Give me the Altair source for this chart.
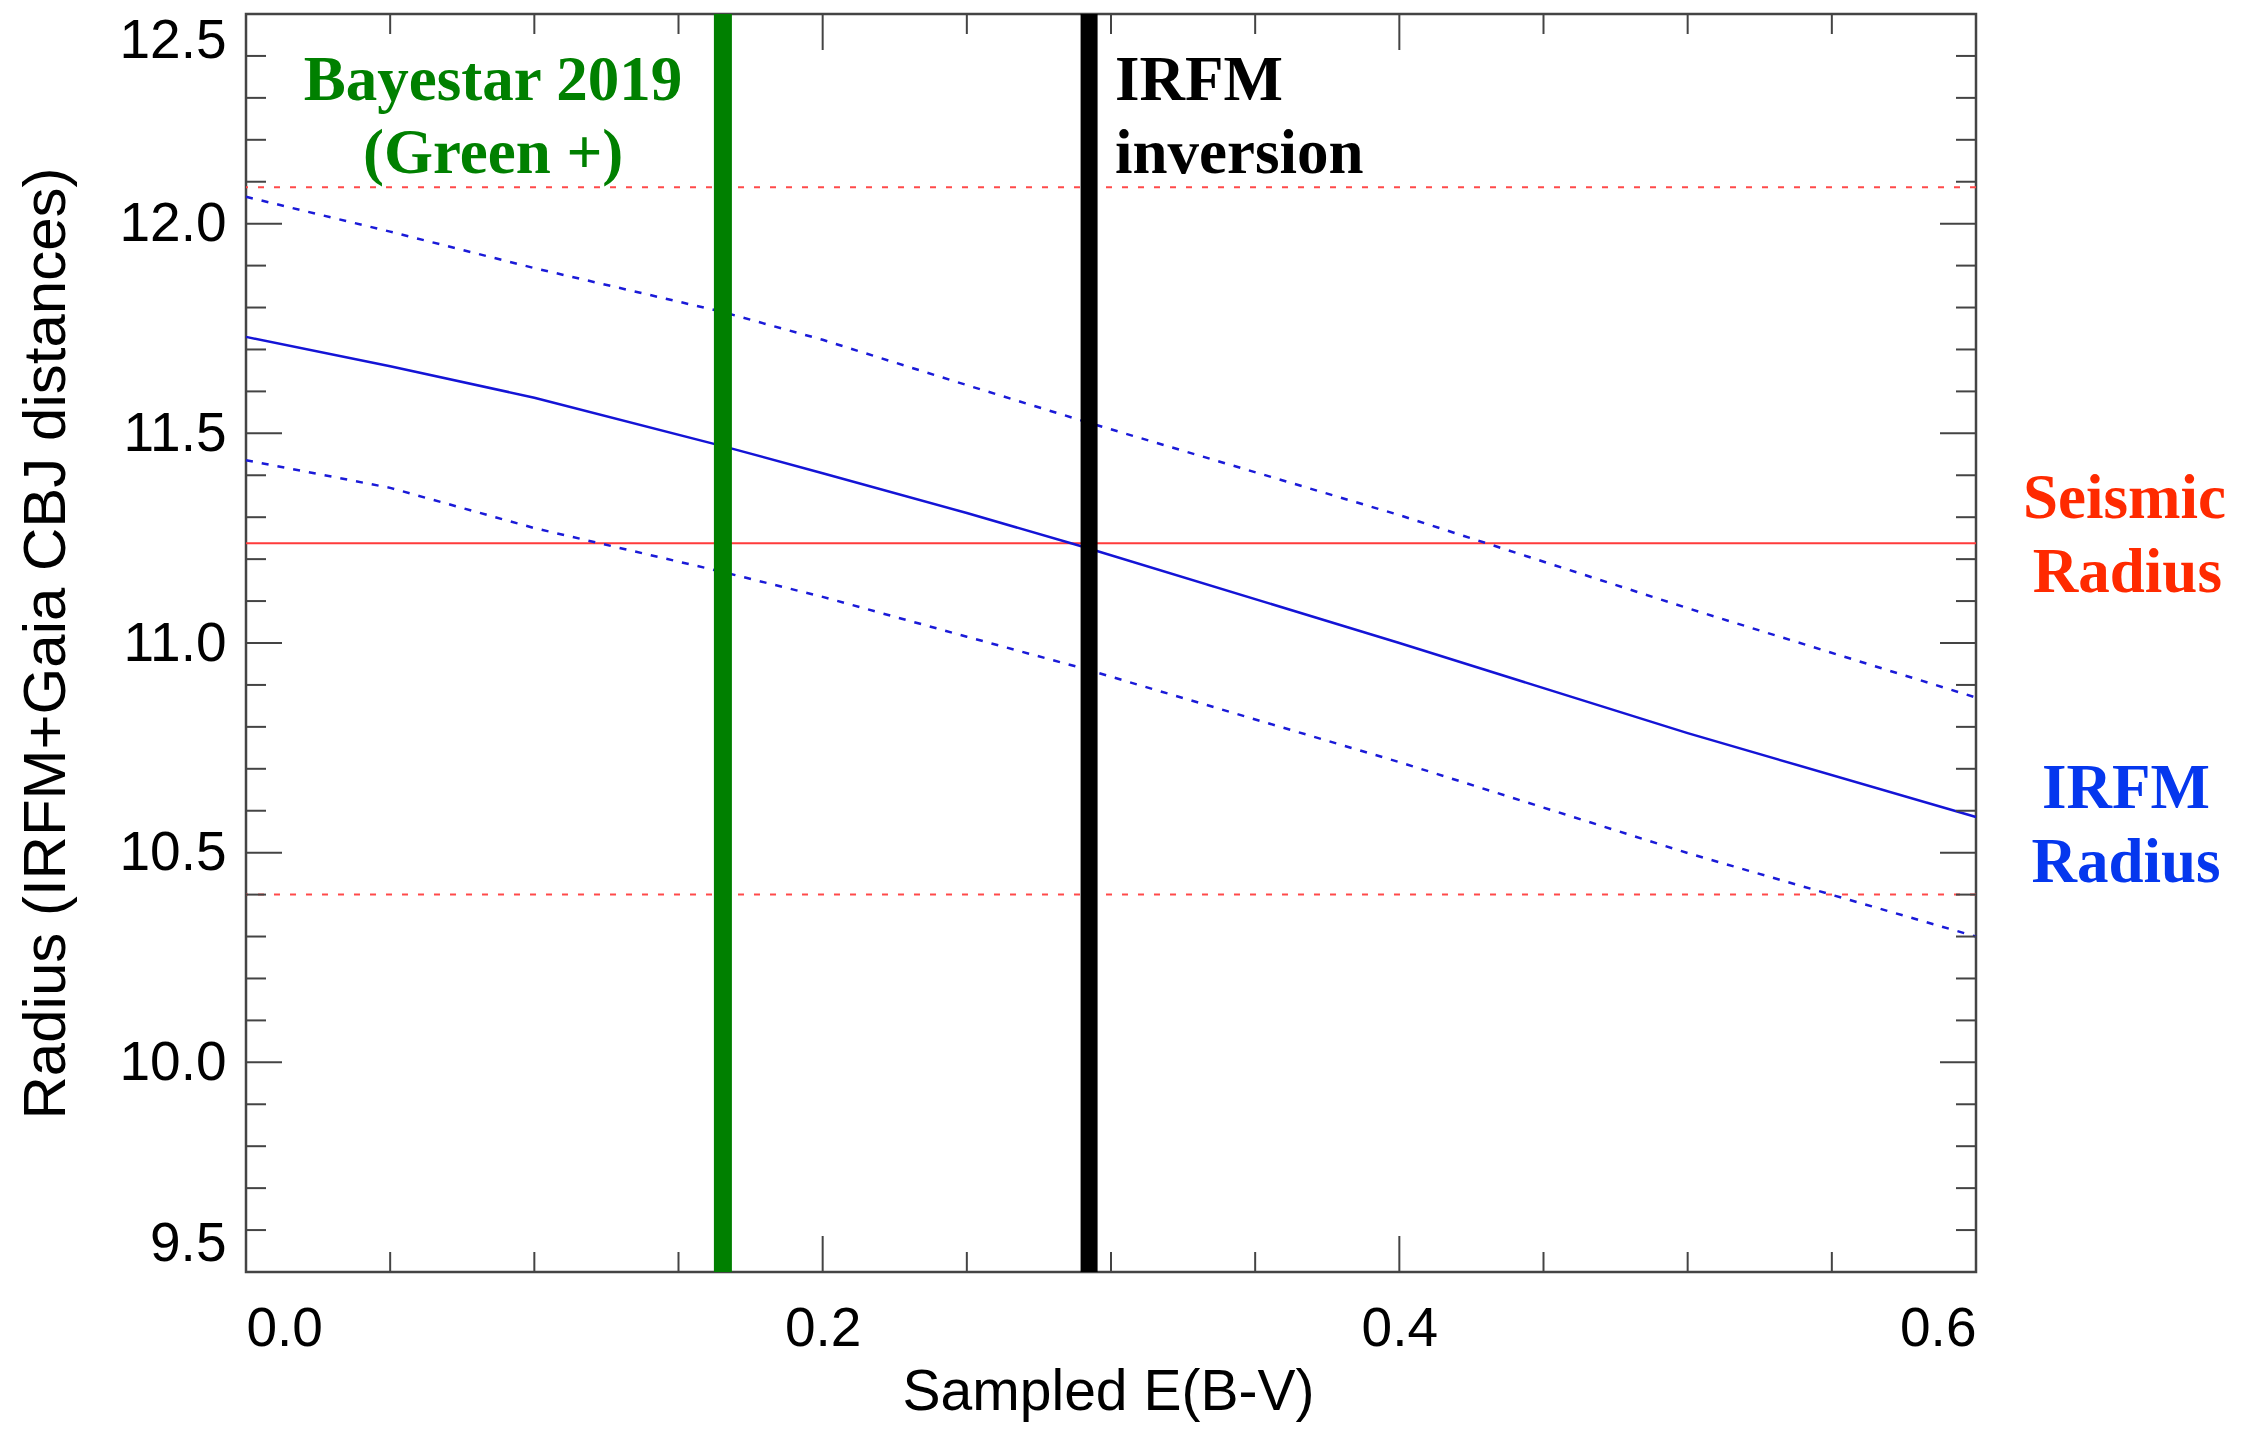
import altair as alt
import pandas as pd

# ---------------- data ----------------
ebv = [0.0, 0.05, 0.1, 0.165, 0.2, 0.25, 0.29, 0.4, 0.5, 0.6]
r_mid = [11.73, 11.66, 11.585, 11.47, 11.405, 11.31, 11.23, 11.0, 10.785, 10.585]
r_up = [12.064, 11.981, 11.894, 11.79, 11.723, 11.615, 11.53, 11.305, 11.083, 10.87]
r_lo = [11.436, 11.37, 11.274, 11.17, 11.11, 11.015, 10.94, 10.716, 10.499, 10.30]

seismic_r = [11.238]
seismic_band = [12.087, 10.40]

bayestar_ebv = [0.1654]
irfm_ebv = [0.2924]

x_major = [0.0, 0.2, 0.4, 0.6]
x_minor = [0.05, 0.1, 0.15, 0.25, 0.3, 0.35, 0.45, 0.5, 0.55]
y_major = [9.5, 10.0, 10.5, 11.0, 11.5, 12.0, 12.5]
y_minor = [9.6, 9.7, 9.8, 9.9, 10.1, 10.2, 10.3, 10.4, 10.6, 10.7, 10.8, 10.9,
           11.1, 11.2, 11.3, 11.4, 11.6, 11.7, 11.8, 11.9, 12.1, 12.2, 12.3, 12.4]

ann_text = ["Bayestar 2019", "(Green +)", "IRFM", "inversion",
            "Seismic", "Radius", "IRFM", "Radius"]
ann_x = [0.0857, 0.0857, 0.3014, 0.3014, 0.6515, 0.6525, 0.652, 0.652]
ann_y = [12.295, 12.121, 12.295, 12.121, 11.298, 11.122, 10.606, 10.430]
ann_color = ["#008000", "#008000", "#000000", "#000000",
             "#ff2a00", "#ff2a00", "#0537ee", "#0537ee"]
ann_align = ["center", "center", "left", "left",
             "center", "center", "center", "center"]

# ---------------- layout ----------------
W, H = 1730, 1258
FRAME = "#444444"

xs = alt.Scale(domain=[0, 0.6], nice=False, zero=False)
ys = alt.Scale(domain=[9.5, 12.5], nice=False, zero=False)

xaxis = alt.Axis(values=x_major, format=".1f", grid=False, domain=False, ticks=False,
                 labelFont="Liberation Sans", labelFontSize=55, labelColor="black",
                 labelPadding=30, title="Sampled E(B-V)", titleFont="Liberation Sans",
                 titleFontSize=57, titleFontWeight="normal", titleColor="black",
                 titleX=862, titleY=137, titleBaseline="alphabetic", titleAlign="center")
yaxis = alt.Axis(values=y_major, format=".1f", grid=False, domain=False, ticks=False,
                 labelFont="Liberation Sans", labelFontSize=55, labelColor="black",
                 labelPadding=20, labelFlush=True, labelFlushOffset=0,
                 title="Radius (IRFM+Gaia CBJ distances)", titleFont="Liberation Sans",
                 titleFontSize=60, titleFontWeight="normal", titleColor="black",
                 titleAngle=270, titleX=-200, titleY=629, titleAlign="center",
                 titleBaseline="middle")

X = alt.X("x:Q", scale=xs, axis=xaxis)
Y = alt.Y("y:Q", scale=ys, axis=yaxis)

df_mid = pd.DataFrame({"x": ebv, "y": r_mid})
df_up = pd.DataFrame({"x": ebv, "y": r_up})
df_lo = pd.DataFrame({"x": ebv, "y": r_lo})

base_line = alt.Chart(df_mid).mark_line(color="#1414d6", strokeWidth=2.5).encode(x=X, y=Y)
up_line = alt.Chart(df_up).mark_line(color="#1a1ad8", strokeWidth=2.5,
                                     strokeDash=[7, 9]).encode(x=X, y=Y)
lo_line = alt.Chart(df_lo).mark_line(color="#1a1ad8", strokeWidth=2.5,
                                     strokeDash=[7, 9]).encode(x=X, y=Y)

seis = alt.Chart(pd.DataFrame({"y": seismic_r})).mark_rule(
    color="#ff3b3b", strokeWidth=2).encode(y=Y)
band = alt.Chart(pd.DataFrame({"y": seismic_band})).mark_rule(
    color="#ff4a4a", strokeWidth=2, strokeDash=[6, 10]).encode(y=Y)

green = alt.Chart(pd.DataFrame({"x": bayestar_ebv})).mark_rule(
    color="#008000", strokeWidth=18).encode(x=X)
black = alt.Chart(pd.DataFrame({"x": irfm_ebv})).mark_rule(
    color="#000000", strokeWidth=17).encode(x=X)

ann = pd.DataFrame({"x": ann_x, "y": ann_y, "t": ann_text, "c": ann_color, "a": ann_align})
txt_c = alt.Chart(ann[ann.a == "center"]).mark_text(
    font="Liberation Serif", fontWeight="bold", fontSize=63, align="center",
    baseline="alphabetic", clip=False).encode(
    x=X, y=Y, text="t:N", color=alt.Color("c:N", scale=None))
txt_l = alt.Chart(ann[ann.a == "left"]).mark_text(
    font="Liberation Serif", fontWeight="bold", fontSize=63, align="left",
    baseline="alphabetic", clip=False).encode(
    x=X, y=Y, text="t:N", color=alt.Color("c:N", scale=None))

MAJ, MIN = 36, 20


def xticks(vals, length):
    d = pd.DataFrame({"x": vals})
    bot = alt.Chart(d).mark_rule(color=FRAME, strokeWidth=2).encode(
        x=X, y=alt.value(H), y2=alt.value(H - length))
    top = alt.Chart(d).mark_rule(color=FRAME, strokeWidth=2).encode(
        x=X, y=alt.value(0), y2=alt.value(length))
    return [bot, top]


def yticks(vals, length):
    d = pd.DataFrame({"y": vals})
    left = alt.Chart(d).mark_rule(color=FRAME, strokeWidth=2).encode(
        y=Y, x=alt.value(0), x2=alt.value(length))
    right = alt.Chart(d).mark_rule(color=FRAME, strokeWidth=2).encode(
        y=Y, x=alt.value(W), x2=alt.value(W - length))
    return [left, right]


ticks = xticks(x_major, MAJ) + xticks(x_minor, MIN) + yticks(y_major, MAJ) + yticks(y_minor, MIN)

chart = alt.layer(
    band, seis, lo_line, up_line, base_line, green, black, *ticks, txt_c, txt_l
).properties(
    width=W, height=H,
    autosize=alt.AutoSizeParams(type="none"),
    padding={"left": 238, "top": 6, "right": 256, "bottom": 150},
    background="white",
).configure_view(stroke=FRAME, strokeWidth=2.5)

chart.save("out.html", embed_options={"renderer": "svg", "actions": False})
